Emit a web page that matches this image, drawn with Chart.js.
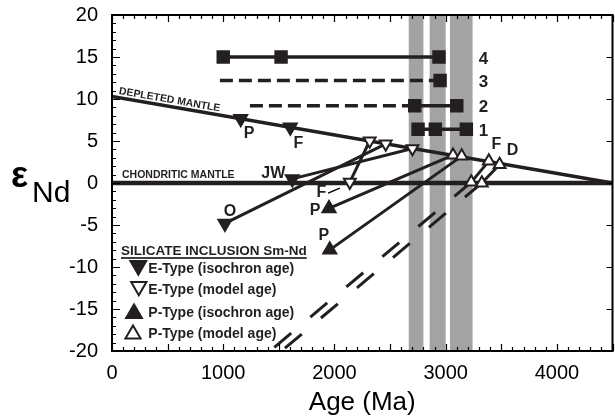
<!DOCTYPE html>
<html lang="en">
<head>
<meta charset="UTF-8">
<title>Silicate inclusion Sm-Nd ages</title>
<script src="https://cdn.jsdelivr.net/npm/chart.js"></script>
<style>
  html, body { margin: 0; padding: 0; background: #fff; overflow: hidden; }
  /* chart.js keeps ~9px on the right, so the canvas runs a little past the window */
  #wrap { width: 622px; height: 418px; }
</style>
</head>
<body>
<div id="wrap"><canvas id="nd-chart"></canvas></div>
<script>
// ages in Ma, values in epsilon Nd
const ageBands = [[2668, 2800], [2856, 3000], [3039, 3242]];

const depletedMantle = [[0, 10.3], [4500, 0]];
const chondriticMantle = [[0, 0], [4500, 0]];

// horizontal age bars, labelled 4..1 from the top
const barLabels = ['4', '3', '2', '1'];
const barEps = [15, 12.2, 9.2, 6.4];
const barSolid = [[1000, 2940], [], [2722, 3100], [2752, 3186]];
const barDashed = [[], [970, 2950], [1240, 2722], []];
const barSquares = [[1000, 1520, 2940], [2950], [2722, 3100], [2752, 2907, 3186]];

// E-type, isochron age
const eIsoNames = ['P', 'F', 'JW', 'O'];
const eIsoAge = [1157, 1603, 1621, 1015];
const eIsoEps = [7.65, 6.64, 0.49, -4.81];

// E-type, model age
const eModelNames = ['', '', '', 'F'];
const eModelAge = [2317, 2461, 2701, 2138];
const eModelEps = [5.0, 4.65, 4.1, 0.1];

// P-type, isochron age
const pIsoNames = ['P', 'P'];
const pIsoAge = [1951, 1958];
const pIsoEps = [-3.03, -7.96];

// P-type, model age
const pModelNames = ['', '', 'F', 'D', '', ''];
const pModelAge = [3066, 3144, 3388, 3485, 3230, 3325];
const pModelEps = [3.31, 3.2, 2.6, 2.2, 0.1, 0.0];

// evolution lines [age1, eps1, age2, eps2]
const tieLines = [
  [1621, 0.49, 2701, 4.1],
  [1015, -4.81, 2461, 4.65],
  [2138, 0.1, 2317, 5.0],
  [1951, -3.03, 3066, 3.31],
  [1958, -7.96, 3144, 3.2],
  [3388, 2.6, 3230, 0.1],
  [3485, 2.2, 3325, 0.0]
];
const dashedTies = [
  [3230, 0.1, 1420, -20],
  [3325, 0.0, 1525, -20]
];

const legendItems = [
  'E-Type (isochron age)',
  'E-Type (model age)',
  'P-Type (isochron age)',
  'P-Type (model age)'
];

const ink = '#231f20';
const grey = '#a2a3a2';
const fam = '"Liberation Sans", Arial, Helvetica, sans-serif';

const pts = (ages, eps) => ages.map((a, i) => ({x: a, y: eps[i]}));
const seg = (s) => [{x: s[0], y: s[1]}, {x: s[2], y: s[3]}];
const pairs = (arr) => arr.map(p => ({x: p[0], y: p[1]}));

function line(data, width, dash) {
  return {
    data: data, showLine: true, borderColor: ink, borderWidth: width,
    borderDash: dash || [], pointRadius: 0, borderCapStyle: 'butt', order: 10
  };
}

function markers(data, style, rot, r, filled, bw) {
  return {
    data: data, showLine: false, pointStyle: style, pointRotation: rot,
    pointRadius: r, pointBackgroundColor: filled ? ink : '#fff',
    pointBorderColor: ink, pointBorderWidth: bw, order: 1
  };
}

const datasets = [];
datasets.push(markers(pts(eIsoAge, eIsoEps), 'triangle', 180, 8, true, 1.5));
datasets.push(markers(pts(eModelAge, eModelEps), 'triangle', 180, 6.8, false, 2));
datasets.push(markers(pts(pIsoAge, pIsoEps), 'triangle', 0, 8, true, 1.5));
datasets.push(markers(pts(pModelAge, pModelEps), 'triangle', 0, 6.8, false, 2));
barSquares.forEach((row, i) => {
  datasets.push(markers(row.map(a => ({x: a, y: barEps[i]})), 'rect', 0, 9.5, true, 0));
});
barSolid.forEach((row, i) => {
  if (row.length) datasets.push(line(row.map(a => ({x: a, y: barEps[i]})), 3.5));
});
barDashed.forEach((row, i) => {
  if (row.length) datasets.push(line(row.map(a => ({x: a, y: barEps[i]})), 3.5, [13, 6]));
});
tieLines.forEach(s => datasets.push(line(seg(s), 3)));
dashedTies.forEach(s => datasets.push(line(seg(s), 3, [22, 25])));
datasets.push(line(pairs(depletedMantle), 3.5));
datasets.push(line(pairs(chondriticMantle), 4.5));

// label offsets in pixels from each marker
const eIsoOff = [[8.5, 14.6], [8, 16], [-19, -5.6], [5, -12]];
const eModelOff = [[0, 0], [0, 0], [0, 0], [-28.3, 10.6]];
const pIsoOff = [[-14, 2.3], [-6, -14]];
const pModelOff = [[0, 0], [0, 0], [7.5, -17], [12.8, -14.4]];
const rowLabelAge = 3340;

function tri(ctx, cx, cy, r, up, filled) {
  ctx.beginPath();
  for (let k = 0; k < 3; k++) {
    const ang = (up ? 0 : Math.PI) + k * 2 * Math.PI / 3;
    const px = cx + Math.sin(ang) * r, py = cy - Math.cos(ang) * r;
    if (k) ctx.lineTo(px, py); else ctx.moveTo(px, py);
  }
  ctx.closePath();
  ctx.fillStyle = filled ? ink : '#fff';
  ctx.fill();
  ctx.lineWidth = filled ? 1.5 : 2;
  ctx.strokeStyle = ink;
  ctx.stroke();
}

const decor = {
  id: 'decor',
  beforeDatasetsDraw(chart) {
    const {ctx, chartArea: a, scales: {x}} = chart;
    ctx.save();
    ctx.fillStyle = grey;
    ageBands.forEach(([a0, a1]) => {
      const p0 = x.getPixelForValue(a0), p1 = x.getPixelForValue(a1);
      ctx.fillRect(p0, a.top, p1 - p0, a.bottom - a.top);
    });
    ctx.restore();
  },
  afterDatasetsDraw(chart) {
    const {ctx, chartArea: a, scales: {x, y}} = chart;
    ctx.save();

    // frame and inward ticks
    ctx.strokeStyle = '#000';
    ctx.lineWidth = 1.2;
    ctx.beginPath();
    for (let v = 0; v <= 4500; v += 100) {
      const px = Math.round(x.getPixelForValue(v)) + 0.5;
      const len = v % 500 === 0 ? 7 : 4;
      ctx.moveTo(px, a.bottom); ctx.lineTo(px, a.bottom - len);
      ctx.moveTo(px, a.top); ctx.lineTo(px, a.top + len);
    }
    for (let v = -20; v <= 20; v += 1) {
      const py = Math.round(y.getPixelForValue(v)) + 0.5;
      const len = v % 5 === 0 ? 8 : 4;
      ctx.moveTo(a.left, py); ctx.lineTo(a.left + len, py);
      if (v % 5 === 0) { ctx.moveTo(a.right, py); ctx.lineTo(a.right - 6, py); }
    }
    ctx.stroke();
    ctx.lineWidth = 2;
    ctx.strokeRect(a.left, a.top, a.right - a.left, a.bottom - a.top);

    ctx.fillStyle = ink;
    ctx.textBaseline = 'middle';
    ctx.textAlign = 'center';

    // point labels
    ctx.font = 'bold 16px ' + fam;
    const put = (names, ages, eps, off) => names.forEach((n, i) => {
      if (!n) return;
      ctx.fillText(n, x.getPixelForValue(ages[i]) + off[i][0], y.getPixelForValue(eps[i]) + off[i][1]);
    });
    put(eIsoNames, eIsoAge, eIsoEps, eIsoOff);
    put(eModelNames, eModelAge, eModelEps, eModelOff);
    put(pIsoNames, pIsoAge, pIsoEps, pIsoOff);
    put(pModelNames, pModelAge, pModelEps, pModelOff);

    // pointer for the F model age
    const fx = x.getPixelForValue(eModelAge[3]), fy = y.getPixelForValue(eModelEps[3]);
    ctx.lineWidth = 1.5;
    ctx.beginPath();
    ctx.moveTo(fx - 21.7, fy + 11); ctx.lineTo(fx - 10, fy + 6);
    ctx.stroke();

    // bar numbers
    ctx.font = 'bold 17px ' + fam;
    barLabels.forEach((t, i) => {
      ctx.fillText(t, x.getPixelForValue(rowLabelAge), y.getPixelForValue(barEps[i]) + 2);
    });

    // mantle labels
    ctx.font = 'bold 10.5px ' + fam;
    ctx.textAlign = 'left';
    ctx.textBaseline = 'alphabetic';
    const d0x = x.getPixelForValue(depletedMantle[0][0]), d0y = y.getPixelForValue(depletedMantle[0][1]);
    const d1x = x.getPixelForValue(depletedMantle[1][0]), d1y = y.getPixelForValue(depletedMantle[1][1]);
    const ang = Math.atan2(d1y - d0y, d1x - d0x);
    const sx = a.left + 6;
    const sy = d0y + (d1y - d0y) * (sx - d0x) / (d1x - d0x);
    ctx.save();
    ctx.translate(sx, sy);
    ctx.rotate(ang);
    ctx.fillText('DEPLETED MANTLE', 0, -3.5);
    ctx.restore();
    ctx.fillText('CHONDRITIC MANTLE', a.left + 10, y.getPixelForValue(0) - 4.7);

    // legend
    ctx.font = 'bold 13.5px ' + fam;
    ctx.fillText('SILICATE INCLUSION Sm-Nd', 121, 255);
    const tw = ctx.measureText('SILICATE INCLUSION Sm-Nd').width;
    ctx.lineWidth = 1.5;
    ctx.beginPath();
    ctx.moveTo(121, 258); ctx.lineTo(121 + tw, 258);
    ctx.stroke();
    const legMarks = [[138.3, 265.6, false, true, 9.6], [138.8, 286.5, false, false, 8.8],
                      [134, 313.5, true, true, 9.6], [133, 334.2, true, false, 8.8]];
    const legBase = [273.3, 294.3, 317.3, 338.3];
    ctx.font = 'bold 14px ' + fam;
    legendItems.forEach((t, i) => {
      const m = legMarks[i];
      tri(ctx, m[0], m[1], m[4], m[2], m[3]);
      ctx.fillStyle = ink;
      ctx.fillText(t, 148.3, legBase[i]);
    });

    // axis titles
    ctx.fillStyle = '#000';
    ctx.textAlign = 'center';
    ctx.font = '26px ' + fam;
    ctx.fillText('Age (Ma)', (a.left + a.right) / 2, 410);
    ctx.textAlign = 'left';
    ctx.font = 'bold 36px ' + fam;
    ctx.fillText('\u03b5', 11, 187);
    ctx.font = '30px ' + fam;
    ctx.fillText('Nd', 32, 202);

    ctx.restore();
  }
};

function noPad(s) {
  s.paddingTop = 0; s.paddingBottom = 0; s.paddingLeft = 0; s.paddingRight = 0;
}

new Chart(document.getElementById('nd-chart'), {
  type: 'scatter',
  data: { datasets: datasets },
  options: {
    responsive: true,
    maintainAspectRatio: false,
    animation: false,
    events: [],
    layout: { padding: { top: 15, right: 0, left: 0, bottom: 0 } },
    plugins: { legend: { display: false }, tooltip: { enabled: false } },
    scales: {
      x: {
        type: 'linear', min: 0, max: 4500,
        afterBuildTicks: s => { s.ticks = [0, 1000, 2000, 3000, 4000].map(v => ({value: v})); },
        afterFit: s => { s.height = 67; noPad(s); },
        ticks: { color: '#000', padding: 10, maxRotation: 0, font: { family: fam, size: 20 },
                 callback: v => String(v) },
        grid: { display: false, drawTicks: false },
        border: { display: false }
      },
      y: {
        type: 'linear', min: -20, max: 20,
        afterFit: s => { s.width = 112; noPad(s); },
        ticks: { stepSize: 5, color: '#000', padding: 14, font: { family: fam, size: 20 },
                 callback: v => String(v) },
        grid: { display: false, drawTicks: false },
        border: { display: false }
      }
    }
  },
  plugins: [decor]
});
</script>
</body>
</html>
